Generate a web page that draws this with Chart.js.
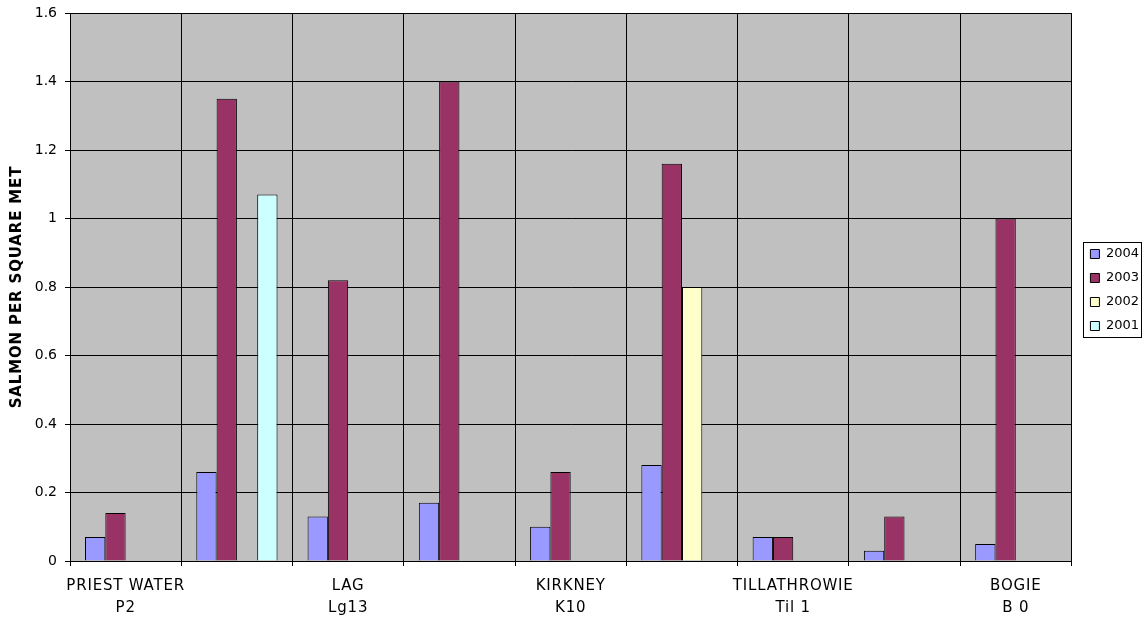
<!DOCTYPE html>
<html>
<head>
<meta charset="utf-8">
<script src="https://cdn.jsdelivr.net/npm/chart.js@4"></script>
<style>
  html, body { margin: 0; padding: 0; background: #fff; }
  #wrap { width: 1144px; height: 618px; position: relative; }
</style>
</head>
<body>
<div id="wrap"><canvas id="c" width="1144" height="618"></canvas></div>
<script>
// Sample sites along the river (only every other site carries a name)
const sites = [
  ["PRIEST WATER", "P2"], "", ["LAG", "Lg13"], "", ["KIRKNEY", "K10"], "",
  ["TILLATHROWIE", "Til 1"], "", ["BOGIE", "B 0"]
];
const years = ["2004", "2003", "2002", "2001"];
const salmon2004 = [0.07, 0.26, 0.13, 0.17, 0.10, 0.28, 0.07, 0.03, 0.05];
const salmon2003 = [0.14, 1.35, 0.82, 1.40, 0.26, 1.16, 0.07, 0.13, 1.00];
const salmon2002 = [null, null, null, null, null, 0.80, null, null, null];
const salmon2001 = [null, 1.07, null, null, null, null, null, null, null];
const yTicks = [0, 0.2, 0.4, 0.6, 0.8, 1, 1.2, 1.4, 1.6];

const colours = ["#9999FF", "#993366", "#FFFFCC", "#CCFFFF"];
const series = [salmon2004, salmon2003, salmon2002, salmon2001];

const FAMILY = "'DejaVu Sans', sans-serif";
const LEGEND_PAD = 11;

// run a scale drawing method with extra letter spacing
function spaced(scale, method, spacing) {
  if (scale['_spaced_' + method]) return;
  const orig = scale[method];
  scale[method] = function (...args) {
    const ctx = this.ctx;
    ctx.save();
    ctx.letterSpacing = spacing;
    orig.apply(this, args);
    ctx.restore();
  };
  scale['_spaced_' + method] = true;
}

// grey plot background, plot frame and legend frame
const chartDecor = {
  id: "chartDecor",
  afterLayout(chart) {
    // legend items sit a little away from the plot's right edge
    const lg = chart.legend;
    const w = lg.width;
    lg.left = chart.chartArea.right + 19 - LEGEND_PAD;
    lg.right = lg.left + w;
    lg.top += 3;
    lg.bottom += 3;
    spaced(chart.scales.x, "drawLabels", "0.8px");
    spaced(chart.scales.y, "drawTitle", "0.85px");
  },
  beforeDraw(chart) {
    const { ctx, chartArea: a } = chart;
    ctx.save();
    ctx.fillStyle = "#C0C0C0";
    ctx.fillRect(a.left, a.top, a.right - a.left, a.bottom - a.top);
    ctx.restore();
  },
  afterDraw(chart) {
    const { ctx, chartArea: a } = chart;
    ctx.save();
    ctx.strokeStyle = "#000";
    ctx.lineWidth = 1;
    ctx.strokeRect(Math.round(a.left) + 0.5, Math.round(a.top) + 0.5,
      Math.round(a.right - a.left), Math.round(a.bottom - a.top));
    const hb = chart.legend.legendHitBoxes;
    if (hb && hb.length) {
      const first = hb[0], last = hb[hb.length - 1];
      const left = Math.round(first.left - 7) + 0.5;
      const top = Math.round(first.top - 6) + 0.5;
      const bottom = Math.round(last.top + last.height + 4) + 0.5;
      ctx.strokeRect(left, top, 58, bottom - top);
    }
    ctx.restore();
  }
};

new Chart(document.getElementById("c"), {
  type: "bar",
  data: {
    labels: sites,
    datasets: years.map((y, i) => ({
      label: y,
      data: series[i],
      backgroundColor: colours[i],
      borderColor: "#000",
      borderWidth: 1,
      barPercentage: 1,
      categoryPercentage: 0.73
    }))
  },
  options: {
    responsive: false,
    animation: false,
    layout: { padding: { left: 0, right: 3, top: 13, bottom: 0 } },
    plugins: {
      tooltip: { enabled: false },
      legend: {
        position: "right",
        align: "center",
        fullSize: false,
        labels: {
          color: "#000",
          font: { family: FAMILY, size: 13 },
          boxWidth: 9,
          boxHeight: 9,
          padding: LEGEND_PAD
        }
      }
    },
    scales: {
      x: {
        offset: true,
        afterFit(scale) { scale.height = 57; },
        grid: { offset: true, color: "#000", lineWidth: 1, tickLength: 5 },
        border: { color: "#000" },
        ticks: {
          color: "#000",
          font: { family: FAMILY, size: 15, lineHeight: 1.45 },
          maxRotation: 0, minRotation: 0, autoSkip: false, padding: 9
        }
      },
      y: {
        min: 0,
        max: 1.6,
        afterBuildTicks(scale) { scale.ticks = yTicks.map(v => ({ value: v })); },
        afterFit(scale) {
          scale.width = 70;
          scale.paddingTop = 0;
          scale.paddingBottom = 0;
        },
        grid: { color: "#000", lineWidth: 1, tickLength: 5 },
        border: { color: "#000" },
        ticks: {
          color: "#000",
          font: { family: FAMILY, size: 14 },
          padding: 8,
          callback: v => String(+Number(v).toFixed(1))
        },
        title: {
          display: true,
          text: "SALMON PER SQUARE MET",
          color: "#000",
          font: { family: FAMILY, size: 15, weight: "bold", lineHeight: 1.2 },
          padding: { top: 8, bottom: 0 }
        }
      }
    }
  },
  plugins: [chartDecor]
});
</script>
</body>
</html>
